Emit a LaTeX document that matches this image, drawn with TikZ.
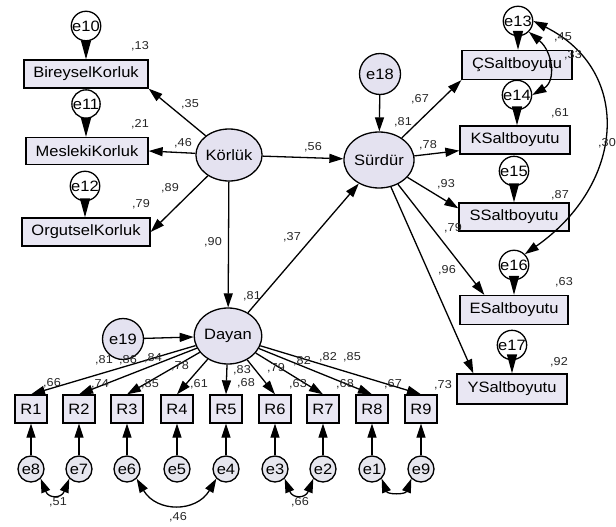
\documentclass[tikz,border=0pt]{standalone}
\usepackage{fontspec}
\setmainfont{Liberation Sans}[FakeStretch=1.1]
\usetikzlibrary{arrows.meta,shapes.geometric}
\definecolor{latfill}{RGB}{228,226,240}
\definecolor{obsfill}{RGB}{233,231,243}
\definecolor{errfill}{RGB}{230,230,238}

\begin{document}
\begin{tikzpicture}[x=1pt, y=-1pt, font=\fontsize{15}{17}\selectfont, line width=1.3pt,
  >={Triangle[length=14pt,width=9pt]},
  lat/.style={draw, ellipse, fill=latfill, minimum width=64pt, minimum height=54pt, inner sep=0pt},
  obs/.style={draw, rectangle, fill=obsfill, minimum height=28pt, inner sep=0pt},
  err/.style={draw, circle, fill=latfill, minimum size=41pt, inner sep=0pt},
  errs/.style={draw, circle, fill=white, minimum size=21pt, inner sep=0pt},
  errb/.style={draw, circle, fill=errfill, minimum size=26pt, inner sep=0pt},
  reg/.style={->},
  ereg/.style={-{Triangle[length=19pt,width=10pt]}},
  cov/.style={<->},
  lbl/.style={font=\fontsize{11.5}{13}\selectfont, text=black!85, inner sep=0pt}]
\useasboundingbox (0,0) rectangle (616,527);
% latent variables
\node[lat, minimum width=63pt, minimum height=52pt] (kor) at (229,155) {Körlük};
\node[lat, minimum width=67pt, minimum height=56pt] (sur) at (379,160) {Sürdür};
\node[lat, minimum width=65pt, minimum height=56pt] (day) at (228,336) {Dayan};
\node[err] (e18) at (380,74) {e18};
\node[err] (e19) at (123,339) {e19};
% Korluk indicators
\node[obs, minimum width=124pt] (bir) at (86,74) {BireyselKorluk};
\node[obs, minimum width=122pt, minimum height=27pt] (mes) at (87,151) {MeslekiKorluk};
\node[obs, minimum width=128pt] (org) at (86,232) {OrgutselKorluk};
\node[errs] (e10) at (86,26) {e10};
\node[errs] (e11) at (86,104) {e11};
\node[errs] (e12) at (85,186) {e12};
% Surdur indicators
\node[obs, minimum width=110pt, minimum height=29pt] (cs) at (517,65) {ÇSaltboyutu};
\node[obs, minimum width=110pt] (ks) at (515,140) {KSaltboyutu};
\node[obs, minimum width=110pt] (ss) at (514,217) {SSaltboyutu};
\node[obs, minimum width=108pt, minimum height=29pt] (es) at (514,310) {ESaltboyutu};
\node[obs, minimum width=110pt, minimum height=30pt] (ys) at (512,389) {YSaltboyutu};
\node[errs] (e13) at (518,21) {e13};
\node[errs] (e14) at (517,95) {e14};
\node[errs] (e15) at (514,171) {e15};
\node[errs] (e16) at (514,265) {e16};
\node[errs] (e17) at (512,345) {e17};
% Dayan indicators
\node[obs, minimum width=32pt] (r1) at (31,409) {R1};
\node[obs, minimum width=32pt] (r2) at (79,409) {R2};
\node[obs, minimum width=32pt] (r3) at (127,409) {R3};
\node[obs, minimum width=32pt] (r4) at (177,409) {R4};
\node[obs, minimum width=32pt] (r5) at (226,409) {R5};
\node[obs, minimum width=32pt] (r6) at (275,409) {R6};
\node[obs, minimum width=32pt] (r7) at (323,409) {R7};
\node[obs, minimum width=32pt] (r8) at (372,409) {R8};
\node[obs, minimum width=32pt] (r9) at (421,409) {R9};
\node[errb] (e8) at (31,469) {e8};
\node[errb] (e7) at (79,469) {e7};
\node[errb] (e6) at (127,469) {e6};
\node[errb] (e5) at (177,469) {e5};
\node[errb] (e4) at (226,469) {e4};
\node[errb] (e3) at (275,469) {e3};
\node[errb] (e2) at (323,469) {e2};
\node[errb] (e1) at (372,469) {e1};
\node[errb] (e9) at (421,469) {e9};
% structural paths
\draw[reg] (kor) -- (sur); \draw[reg] (kor) -- (day); \draw[reg] (day) -- (sur);
\draw[reg] (e18) -- (sur); \draw[reg] (e19) -- (day);
\draw[reg] (kor) -- (bir.south east); \draw[reg] (kor) -- (mes.east); \draw[reg] (kor) -- (org.east);
\draw[reg] (sur) -- (cs.south west); \draw[reg] (sur) -- ([yshift=4pt]ks.south west);
\draw[reg] (sur) -- ([yshift=-6pt]ss.north west); \draw[reg] (sur) -- ([xshift=25pt]es.north west);
\draw[reg] (sur) -- ([xshift=17pt]ys.north west);
\draw[reg] (day) -- (r1.north); \draw[reg] (day) -- (r2.north); \draw[reg] (day) -- (r3.north);
\draw[reg] (day) -- (r4.north); \draw[reg] (day) -- (r5.north); \draw[reg] (day) -- (r6.north);
\draw[reg] (day) -- (r7.north); \draw[reg] (day) -- (r8.north); \draw[reg] (day) -- (r9.north);
% error terms
\draw[ereg] (e10) -- (e10 |- bir.north); \draw[ereg] (e11) -- (e11 |- mes.north); \draw[ereg] (e12) -- (e12 |- org.north);
\draw[ereg] (e13) -- (e13 |- cs.north); \draw[ereg] (e14) -- (e14 |- ks.north); \draw[ereg] (e15) -- (e15 |- ss.north);
\draw[ereg] (e16) -- (e16 |- es.north); \draw[ereg] (e17) -- (e17 |- ys.north);
\draw[reg] (e8) -- (r1); \draw[reg] (e7) -- (r2); \draw[reg] (e6) -- (r3); \draw[reg] (e5) -- (r4); \draw[reg] (e4) -- (r5);
\draw[reg] (e3) -- (r6); \draw[reg] (e2) -- (r7); \draw[reg] (e1) -- (r8); \draw[reg] (e9) -- (r9);
% covariances
\draw[cov] (e8.south east) .. controls +(8,20) and +(-8,20) .. (e7.south west);
\draw[cov] (e6.south east) .. controls +(20,34) and +(-20,34) .. (e4.south west);
\draw[cov] (e3.south east) .. controls +(8,20) and +(-8,20) .. (e2.south west);
\draw[cov] (e1.south east) .. controls +(6,16) and +(-6,16) .. (e9.south west);
\draw[cov] (e13.south east) .. controls +(24,20) and +(24,-14) .. (e14.east);
\draw[cov] (e13.east) .. controls +(100,50) and +(100,-70) .. (e16.north east);
% estimates
\node[lbl] (r2bir) at (140,46) {,13}; \node[lbl] (r2mes) at (140,124) {,21}; \node[lbl] (r2org) at (141,204) {,79};
\node[lbl] (wbir) at (190,104) {,35}; \node[lbl] (wmes) at (183,143) {,46}; \node[lbl] (worg) at (170,188) {,89};
\node[lbl] (wsur) at (313,147) {,56}; \node[lbl] (wday) at (213,242) {,90}; \node[lbl] (wds) at (292,237) {,37};
\node[lbl] (r2sur) at (403,122) {,81}; \node[lbl] (r2day) at (252,296) {,81};
\node[lbl] (wcs) at (420,99) {,67}; \node[lbl] (wks) at (428,145) {,78}; \node[lbl] (wss) at (446,184) {,93};
\node[lbl] (wes) at (453,228) {,79}; \node[lbl] (wys) at (447,270) {,96};
\node[lbl] (r2cs) at (563,37) {,45}; \node[lbl] (c1314) at (573,55) {,33}; \node[lbl] (r2ks) at (560,113) {,61};
\node[lbl] (r2ss) at (560,195) {,87}; \node[lbl] (r2es) at (564,282) {,63}; \node[lbl] (r2ys) at (559,362) {,92};
\node[lbl] (c1316) at (607,143) {,30};
\node[lbl] (w1) at (104,360) {,81}; \node[lbl] (w2) at (128,360) {,86}; \node[lbl] (w3) at (153,358) {,84};
\node[lbl] (w4) at (180,366) {,78}; \node[lbl] (w5) at (242,370) {,83}; \node[lbl] (w6) at (276,368) {,79};
\node[lbl] (w7) at (302,361) {,82}; \node[lbl] (w8) at (328,357) {,82}; \node[lbl] (w9) at (352,357) {,85};
\node[lbl] (q1) at (52,383) {,66}; \node[lbl] (q2) at (100,384) {,74}; \node[lbl] (q3) at (150,384) {,85};
\node[lbl] (q4) at (199,384) {,61}; \node[lbl] (q5) at (246,383) {,68}; \node[lbl] (q6) at (298,384) {,63};
\node[lbl] (q7) at (345,384) {,68}; \node[lbl] (q8) at (393,384) {,67}; \node[lbl] (q9) at (443,385) {,73};
\node[lbl] (c87) at (58,502) {,51}; \node[lbl] (c64) at (178,517) {,46}; \node[lbl] (c32) at (300,502) {,66};
\end{tikzpicture}
\end{document}
